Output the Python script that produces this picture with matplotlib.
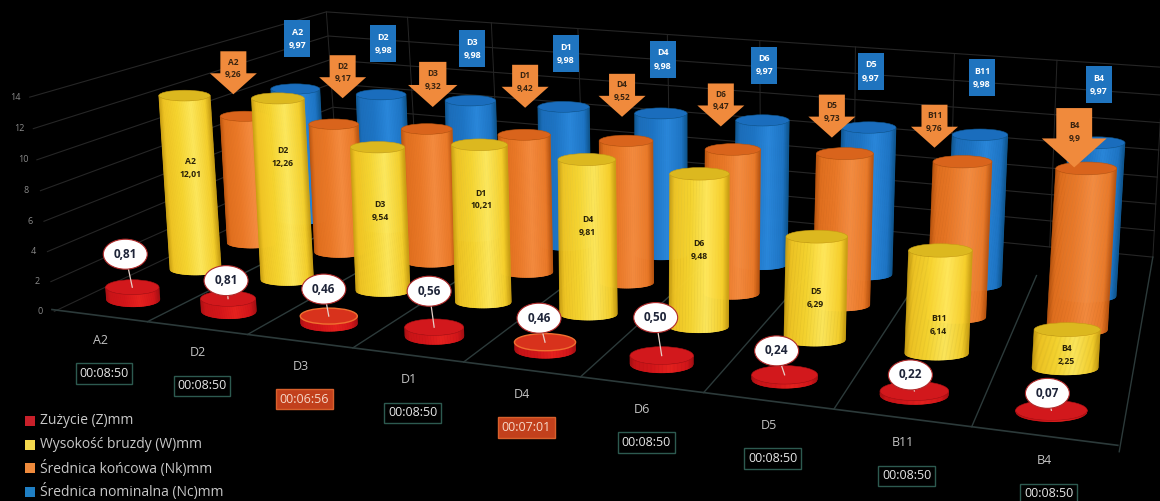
import matplotlib
matplotlib.use("Agg")
import matplotlib.pyplot as plt
import numpy as np
from matplotlib.collections import PolyCollection
from matplotlib.colors import to_rgb
from matplotlib.patches import Ellipse, Polygon, Rectangle

plt.rcParams["font.family"] = ["Open Sans", "DejaVu Sans"]

CATEGORIES = ["A2", "D2", "D3", "D1", "D4", "D6", "D5", "B11", "B4"]
ZUZYCIE = [0.81, 0.81, 0.46, 0.56, 0.46, 0.50, 0.24, 0.22, 0.07]
WYSOKOSC = [12.01, 12.26, 9.54, 10.21, 9.81, 9.48, 6.29, 6.14, 2.25]
SREDNICA_K = [9.26, 9.17, 9.32, 9.42, 9.52, 9.47, 9.73, 9.76, 9.9]
SREDNICA_N = [9.97, 9.98, 9.98, 9.98, 9.98, 9.97, 9.97, 9.98, 9.97]
CZASY = ["00:08:50", "00:08:50", "00:06:56", "00:08:50", "00:07:01",
         "00:08:50", "00:08:50", "00:08:50", "00:08:50"]
LEGEND_LABELS = ["Zużycie (Z)mm", "Wysokość bruzdy (W)mm",
                 "Średnica końcowa (Nk)mm", "Średnica nominalna (Nc)mm"]
LEGEND_COLORS = ["#c9202a", "#f5d94e", "#ee8a3c", "#1f7fc4"]
Y_TICKS = [0, 2, 4, 6, 8, 10, 12, 14]

W, H = 1160, 501
N_CAT = len(CATEGORIES)
N_ROW = 4
Z_MAX = 14

# wall box: (category, row, value) -> pixel
WALL_WORLD = [(0, 0, 0), (N_CAT, 0, 0), (0, N_ROW, 0), (N_CAT, N_ROW, 0),
              (0, 0, Z_MAX), (N_CAT, 0, Z_MAX), (0, N_ROW, Z_MAX),
              (N_CAT, N_ROW, Z_MAX)]
WALL_PIXEL = [(50, 311), (1118, 443), (340, 182), (1155, 258),
              (33, 88), (1135, 215), (325, 14), (1160, 58)]

# anchors for the camera used by the floor and the columns
FLOOR_WORLD = [(0, 0, 0), (1, 0, 0), (5, 0, 0), (9, 0, 0), (0, 0, 14),
               (0.5, 0.5, 0), (4.5, 0.5, 0), (8.5, 0.5, 0),
               (0.5, 1.5, 0), (0.5, 1.5, 12.01), (4.5, 1.5, 0), (4.5, 1.5, 9.81),
               (8.5, 1.5, 0), (8.5, 1.5, 2.25),
               (0.5, 2.5, 9.26), (4.5, 2.5, 9.52), (8.5, 2.5, 0), (8.5, 2.5, 9.9),
               (0.5, 3.5, 9.97), (4.5, 3.5, 9.98), (8.5, 3.5, 0), (8.5, 3.5, 9.97)]
FLOOR_PIXEL = [(50, 311), (153, 325), (583, 378), (1118, 443), (33, 88),
               (132, 298), (548, 348), (1052, 414),
               (195, 268), (188, 96), (581, 314), (578, 160),
               (1066, 367), (1066, 332),
               (240, 118), (630, 138), (1079, 327), (1087, 170),
               (297, 90), (665, 112), (1087, 296), (1095, 145)]

# hand placed label offsets, in pixels, per category
ARROW_DX = [-11, 9, 6, 1, -4, -12, -13, -28, -12]
ARROW_GAP = [22, 26, 22, 27, 24, 23, 16, 14, 1]
ARROW_SCALE = [1, 1, 1.05, 1, 1, 1, 1, 1, 1.38]
YELLOW_DY = [-15, -32, -8, -24, -11, 0, 10, 23, 6]
BUBBLE_OFF = [(-7, -33), (-2, -18), (-5, -27), (-5, -36), (-6, -24),
              (-6, -38), (-8, -24), (-4, -16), (-4, -17)]


def solve_camera(world, pixel):
    rows = []
    rhs = []
    for (x, y, z), (px, py) in zip(world, pixel):
        rows.append([x, y, z, 1, 0, 0, 0, 0, -px * x, -px * y, -px * z])
        rows.append([0, 0, 0, 0, x, y, z, 1, -py * x, -py * y, -py * z])
        rhs += [px, py]
    sol = np.linalg.lstsq(np.array(rows, float), np.array(rhs, float),
                          rcond=None)[0]
    return np.append(sol, 1).reshape(3, 4)


WALL_CAM = solve_camera(WALL_WORLD, WALL_PIXEL)
CAM = solve_camera(FLOOR_WORLD, FLOOR_PIXEL)


def project(x, y, z, cam=CAM):
    x, y, z = np.broadcast_arrays(np.asarray(x, float), y, z)
    pts = np.stack([x, y, z, np.ones_like(x)], axis=-1)
    res = pts @ cam.T
    return res[..., 0] / res[..., 2], res[..., 1] / res[..., 2]


def shade(t, stops):
    # colour across the column width, t runs from -1 to 1
    pos = [-1, -0.82, -0.3, 0.25, 0.8, 1]
    rgb = np.array([to_rgb(c) for c in stops])
    return [np.interp(t, pos, rgb[:, k]) for k in range(3)]


def draw_cylinder(ax, i, row, value, radius, pad, squash, stops, top, zo, rim=None):
    bx, by = project(i + 0.5, row + 0.5, 0.0)
    tx, ty = project(i + 0.5, row + 0.5, value)
    x0, _ = project(i, row + 0.5, 0.0)
    x1, _ = project(i + 1, row + 0.5, 0.0)
    a = radius * float(x1 - x0) + pad
    b = a * squash
    ts = np.linspace(-1, 1, 81)
    arc = b * np.sqrt(1 - ts ** 2)
    quads = []
    colors = []
    for k in range(len(ts) - 1):
        quads.append([(bx + a * ts[k], by + arc[k]),
                       (bx + a * ts[k + 1], by + arc[k + 1]),
                       (tx + a * ts[k + 1], ty + arc[k + 1]),
                       (tx + a * ts[k], ty + arc[k])])
        colors.append(shade((ts[k] + ts[k + 1]) / 2, stops))
    ax.add_collection(PolyCollection(quads, facecolors=colors, edgecolors=colors,
                                     linewidths=0.4, zorder=zo))
    ax.add_patch(Ellipse((tx, ty), 2 * a, 2 * b, fc=top,
                         ec=rim if rim else stops[0], lw=1 if rim else 0.4,
                         zorder=zo + 0.1))
    return float(tx), float(ty), float(bx), float(by)


def draw_arrow(ax, tip_x, tip_y, scale, text):
    hw, sw = 23.5 * scale, 13 * scale
    head, total = 21 * scale, 43 * scale
    pts = [(tip_x, tip_y), (tip_x - hw, tip_y - head), (tip_x - sw, tip_y - head),
           (tip_x - sw, tip_y - total), (tip_x + sw, tip_y - total),
           (tip_x + sw, tip_y - head), (tip_x + hw, tip_y - head)]
    ax.add_patch(Polygon(pts, closed=True, fc="#f08a3c", ec="none", zorder=90))
    ax.text(tip_x, tip_y - 0.6 * total, text, ha="center", va="center",
            fontsize=6, linespacing=1.5, color="#3a2410", fontweight="bold",
            zorder=91)


def main():
    fig = plt.figure(figsize=(W / 100, H / 100), dpi=100, facecolor="black")
    ax = fig.add_axes([0, 0, 1, 1])
    ax.set_xlim(0, W)
    ax.set_ylim(H, 0)
    ax.axis("off")

    grid = "#262626"
    # walls
    for tick in Y_TICKS:
        x, y = project([0, 0, N_CAT], [0, N_ROW, N_ROW], tick, WALL_CAM)
        ax.plot(x, y, color=grid, lw=0.8, zorder=1)
    for i in range(N_CAT + 1):
        x, y = project([i, i], [N_ROW, N_ROW], [0, Z_MAX], WALL_CAM)
        ax.plot(x, y, color=grid, lw=0.7, zorder=1)
    x, y = project([N_CAT, N_CAT], [0, N_ROW], 0, WALL_CAM)
    ax.plot(x, y, color="#2c3a3a", lw=1, zorder=2)

    # floor
    floor = "#2c3a3a"
    for i in range(1, N_CAT):
        x, y = project([i, i], [0, N_ROW], 0)
        ax.plot(x, y, color=floor, lw=1, zorder=2)
    x, y = project([0, N_CAT], [0, 0], 0)
    ax.plot(x, y, color=floor, lw=1.2, zorder=2)

    for tick in Y_TICKS:
        x, y = project(0, 0, tick, WALL_CAM)
        ax.text(float(x) - 14, float(y), str(tick), ha="center", va="center",
                fontsize=6.5, color="#8a8a8a", zorder=2)

    blue = ["#0f568f", "#1c6fbc", "#1e76c6", "#2a88dc", "#1e76c6", "#0f568f"]
    orange = ["#b9540f", "#e2701f", "#ec7a28", "#f68c40", "#ec7a28", "#b9540f"]
    yellow = ["#c79d12", "#f0c524", "#f8d630", "#ffe95c", "#f6d02c", "#c79d12"]
    red = ["#a81014", "#cc1518", "#d6161a", "#e8221f", "#d6161a", "#a81014"]

    tops_k = []
    tops_n = []
    for i in range(N_CAT):
        tops_n.append(draw_cylinder(ax, i, 3, SREDNICA_N[i], 0.115, 15, 0.21, blue,
                                    "#1a6dbd", 10))
    for i in range(N_CAT):
        tops_k.append(draw_cylinder(ax, i, 2, SREDNICA_K[i], 0.165, 10, 0.21, orange,
                                    "#d9641c", 20))
    for i in range(N_CAT):
        tx, ty, bx, by = draw_cylinder(ax, i, 1, WYSOKOSC[i], 0.175, 10, 0.21, yellow,
                                       "#dcb81f", 30)
        ax.text((tx + bx) / 2, (ty + by) / 2 + YELLOW_DY[i],
                "%s\n%s" % (CATEGORIES[i], ("%.2f" % WYSOKOSC[i]).replace(".", ",")),
                ha="center", va="center", fontsize=6.2, linespacing=1.55,
                fontweight="bold", color="#2a2208", zorder=39)

    for i in range(N_CAT):
        # the two shorter times get an orange-red disc top
        late = CZASY[i] != "00:08:50"
        tx, ty, _, _ = draw_cylinder(ax, i, 0, ZUZYCIE[i], 0.19, 9, 0.28, red,
                                     "#d8321c" if late else "#d2181c", 40,
                                     rim="#f07030" if late else None)
        ox, oy = BUBBLE_OFF[i]
        px, py = tx + ox, ty + oy
        ax.plot([px, tx], [py, ty], color="#e8d0c8", lw=0.9, zorder=45)
        ax.add_patch(Ellipse((px, py), 44, 30, fc="white", ec="#b02a2a", lw=0.8,
                             zorder=46))
        ax.text(px, py, ("%.2f" % ZUZYCIE[i]).replace(".", ","), ha="center",
                va="center", fontsize=8.5, fontweight="bold", color="#1e2438",
                zorder=47)

    for i in range(N_CAT):
        tx, ty = tops_k[i][:2]
        val = ("%.2f" % SREDNICA_K[i]).rstrip("0").replace(".", ",")
        draw_arrow(ax, tx + ARROW_DX[i], ty - ARROW_GAP[i],
                   ARROW_SCALE[i], "%s\n%s" % (CATEGORIES[i], val))

        tx, ty = tops_n[i][:2]
        w, h = 26, 37
        cx, cy = tx + 2, ty - 50 - i
        ax.add_patch(Rectangle((cx - w / 2, cy - h / 2), w, h, fc="#1f74bf",
                               ec="none", zorder=90))
        ax.text(cx, cy, "%s\n%s" % (CATEGORIES[i],
                                    ("%.2f" % SREDNICA_N[i]).replace(".", ",")),
                ha="center", va="center", fontsize=6.4, linespacing=1.6,
                fontweight="bold", color="white", zorder=91)

    # category names and times under the front edge
    for i in range(N_CAT):
        x, y = project(i + 0.5, 0, 0)
        x, y = float(x) - 2, float(y)
        ax.text(x + 3, y + 25, CATEGORIES[i], ha="center", va="center", fontsize=9,
                color="#c4c4c4", zorder=60)
        late = CZASY[i] != "00:08:50"
        ax.text(x + 7, y + 58, CZASY[i], ha="center", va="center", fontsize=9,
                color="#e8e8e8" if not late else "#f6d8c8", zorder=61,
                bbox=dict(boxstyle="square,pad=0.3",
                          fc="#c2401c" if late else "black",
                          ec="#d8602c" if late else "#2d5a50", lw=1))

    for k, (lab, col) in enumerate(zip(LEGEND_LABELS, LEGEND_COLORS)):
        y = 421 + 23.5 * k
        ax.add_patch(Rectangle((25, y - 5), 10, 10, fc=col, ec="none", zorder=60))
        ax.text(40, y, lab, ha="left", va="center", fontsize=10,
                color="#c8c8c8", zorder=60)

    fig.savefig("out.png", dpi=100, facecolor="black")


if __name__ == "__main__":
    main()
